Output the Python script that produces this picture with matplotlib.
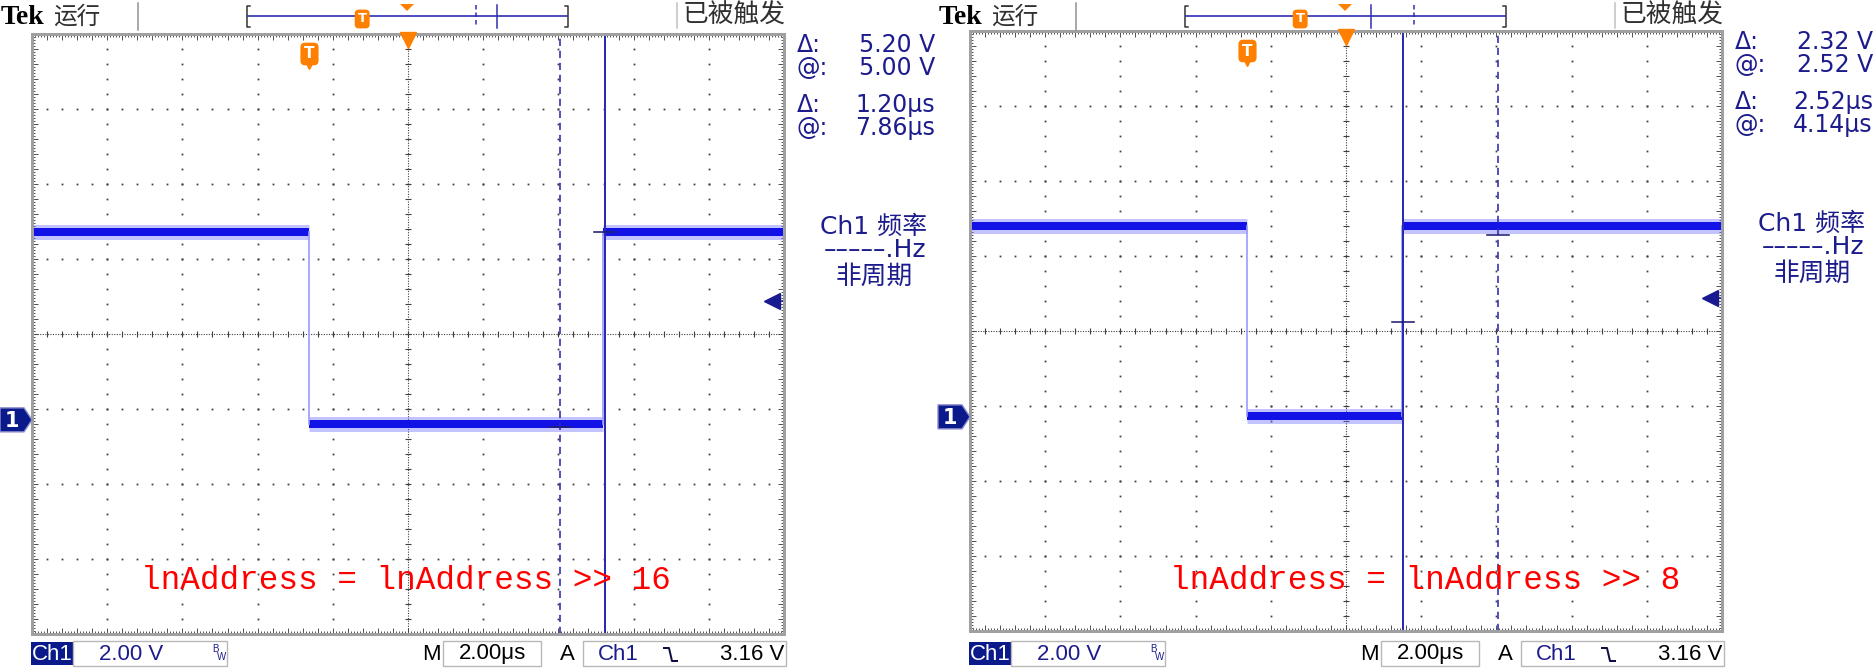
import numpy as np
import matplotlib.pyplot as plt
import matplotlib.transforms as mtransforms
from matplotlib.lines import Line2D
from matplotlib.patches import Polygon, Rectangle

W, H = 1876, 669
PX = 0.72  # points per pixel at dpi 100

# scope settings
sec_div = 2.0       # us / div
volt_div = 2.0      # V / div
trig_level = 3.16   # V
t_start = -7.38     # us at left edge of the screen
v_bottom = -5.71    # V at bottom edge of the screen

# the two captures
labels = ['lnAddress = lnAddress >> 16', 'lnAddress = lnAddress >> 8']
high_v = [5.00, 5.08]
low_v = [-0.12, 0.02]
fall_t = [0.0, 0.0]
rise_t = [7.80, 4.12]
cur_solid_t = [7.86, 4.14]
cur_dash_t = [6.66, 6.66]
cur_solid_v = [5.00, 2.52]
cur_dash_v = [-0.20, 4.84]

NAVY = '#1c1c8c'
CUR = '#2a2ab4'
ORANGE = '#ff8000'
GRAY = '#a0a0a0'

fig = plt.figure(figsize=(W / 100, H / 100), dpi=100)
fig.patch.set_facecolor('white')
pix = mtransforms.Affine2D().scale(1.0 / W, -1.0 / H).translate(0, 1) + fig.transFigure


def line(xs, ys, **kw):
    fig.add_artist(Line2D(xs, ys, transform=pix, **kw))


def text(x, y, s, **kw):
    fig.text(x, y, s, transform=pix, **kw)


def rect(x, y, w, h, **kw):
    fig.add_artist(Rectangle((x, y), w, h, transform=pix, **kw))


label_x = [141, 1170]

for i in range(2):
    ox = 938 * i
    dy = -3 * i
    x0, y0 = ox + 32, 34 + dy
    t_end = t_start + 10 * sec_div
    v_top = v_bottom + 8 * volt_div

    ax = fig.add_axes([x0 / W, 1 - (y0 + 600) / H, 752 / W, 600 / H])
    ax.set_xlim(t_start, t_end)
    ax.set_ylim(v_bottom, v_top)
    ax.set_facecolor('white')

    # graticule
    ta = ax.transAxes
    for k in [1, 2, 3, 4, 6, 7, 8, 9]:
        ax.plot(np.full(41, k / 10), np.arange(41) / 40, 's', ms=1.3, color='#404040', mew=0, transform=ta)
    for j in [1, 2, 3, 5, 6, 7]:
        ax.plot(np.arange(51) / 50, np.full(51, j / 8), 's', ms=1.3, color='#404040', mew=0, transform=ta)
    ax.plot([0, 1], [0.5, 0.5], ls=(0, (1, 1.3)), lw=0.8, color='#404040', transform=ta)
    ax.plot([0.5, 0.5], [0, 1], ls=(0, (1, 1.3)), lw=0.8, color='#404040', transform=ta)
    ax.plot(np.arange(51) / 50, np.full(51, 0.5), '|', ms=4.5, mew=0.8, color='#404040', transform=ta)
    ax.plot(np.full(41, 0.5), np.arange(41) / 40, '_', ms=4.5, mew=0.8, color='#404040', transform=ta)

    ax.set_xticks(t_start + np.arange(51) * sec_div / 5)
    ax.set_xticks(t_start + np.arange(251) * sec_div / 25, minor=True)
    ax.set_yticks(v_bottom + np.arange(41) * volt_div / 5)
    ax.set_yticks(v_bottom + np.arange(201) * volt_div / 25, minor=True)
    ax.tick_params(which='both', direction='in', top=True, right=True,
                   labelbottom=False, labelleft=False, color='#505050', width=0.7)
    ax.tick_params(which='major', length=4)
    ax.tick_params(which='minor', length=2)
    for s in ax.spines.values():
        s.set_color(GRAY)
        s.set_linewidth(3 * PX)

    # waveform
    segs = [(t_start, fall_t[i], high_v[i]), (fall_t[i], rise_t[i], low_v[i]), (rise_t[i], t_end, high_v[i])]
    for a, b, v in segs:
        ax.plot([a, b], [v, v], color='#6a6aff', lw=15 * PX, alpha=0.4, solid_capstyle='butt')
        ax.plot([a, b], [v, v], color='#1212e6', lw=8 * PX, solid_capstyle='butt')
    ax.plot([fall_t[i]] * 2, [high_v[i], low_v[i]], color='#9a9aff', lw=1.2)
    ax.plot([rise_t[i]] * 2, [low_v[i], high_v[i]], color='#9a9aff', lw=1.2)

    # cursors
    ax.axvline(cur_solid_t[i], color=CUR, lw=2 * PX)
    ax.axvline(cur_dash_t[i], color=CUR, lw=1.6 * PX, ls=(0, (4.5, 3)))
    ax.plot([cur_solid_t[i] - 0.3, cur_solid_t[i] + 0.3], [cur_solid_v[i]] * 2, color='#202070', lw=1.6 * PX)
    ax.plot([cur_dash_t[i] - 0.3, cur_dash_t[i] + 0.3], [cur_dash_v[i]] * 2, color='#202070', lw=1.6 * PX)

    # trigger level arrow, trigger position, expansion point
    bl = mtransforms.blended_transform_factory(ax.transAxes, ax.transData)
    ax.plot([1 - 12 / 752, 1], [trig_level] * 2, color='#1a1a90', lw=1.5 * PX, transform=bl)
    ax.plot([1 - 12 / 752], [trig_level], '<', ms=11, color='#1a1a90', transform=bl)
    bt = mtransforms.blended_transform_factory(ax.transData, ax.transAxes)
    ax.plot([fall_t[i]], [1 - 31 / 600], 'v', ms=6, color=ORANGE, transform=bt, zorder=5)
    ax.text(fall_t[i], 1 - 20 / 600, 'T', color='white', fontsize=11, fontweight='bold',
            ha='center', va='center', transform=bt, zorder=6,
            bbox=dict(boxstyle='round,pad=0.25,rounding_size=0.3', fc=ORANGE, ec='none'))
    ax.plot([0.5], [1 - 6 / 600], 'v', ms=11, color=ORANGE, transform=ta, clip_on=False, zorder=6)

    # code label
    text(label_x[i], 589, labels[i], color='red', fontsize=23.5, family='Liberation Mono',
         va='baseline', zorder=10)

    # ground marker
    gy = y0 + v_top / (v_top - v_bottom) * 600
    fig.add_artist(Polygon([(ox, gy - 12), (ox + 24, gy - 12), (ox + 32, gy), (ox + 24, gy + 12), (ox, gy + 12)],
                           closed=True, fc='#0a1a8a', ec='#8c8cd0', lw=1, transform=pix))
    text(ox + 12, gy + 1, '1', color='white', fontsize=15, fontweight='bold', ha='center', va='center')

    # header
    text(ox + 1, 17, 'Tek', fontsize=20, fontweight='bold', family='Liberation Serif', va='center')
    text(ox + 53, 17, '运行', fontsize=17, family='Noto Sans CJK SC', color='#303030', va='center')
    text(ox + 683, 16, '已被触发', fontsize=18.5, family='Noto Sans CJK SC', color='#303030', va='center')
    line([ox + 138, ox + 138], [3, 30], color='#909090', lw=1.5 * PX)
    line([ox + 677, ox + 677], [3, 28], color='#c0c0c0', lw=1.5 * PX)
    line([ox + 250, ox + 247, ox + 247, ox + 250], [6, 6, 27, 27], color='#303030', lw=1.5 * PX)
    line([ox + 565, ox + 568, ox + 568, ox + 565], [6, 6, 27, 27], color='#303030', lw=1.5 * PX)
    line([ox + 248, ox + 567], [16, 16], color='#2525b0', lw=1.6 * PX)

    def bar_x(t):
        scr = x0 + (t - t_start) / sec_div * 75.2
        return ox + 407 + 0.455 * (scr - (ox + 408))

    line([bar_x(cur_dash_t[i])] * 2, [5, 27], color=CUR, lw=1.5 * PX, ls=(0, (3, 2)))
    line([bar_x(cur_solid_t[i])] * 2, [5, 28], color=CUR, lw=1.5 * PX)
    text(bar_x(fall_t[i]), 19, 'T', color='white', fontsize=9.5, fontweight='bold', ha='center', va='center',
         bbox=dict(boxstyle='round,pad=0.22,rounding_size=0.3', fc=ORANGE, ec='none'))
    fig.add_artist(Polygon([(ox + 400, 4), (ox + 414, 4), (ox + 407, 11)], closed=True, fc=ORANGE, ec='none',
                           transform=pix))

    # readouts
    dv = abs(cur_solid_v[i] - cur_dash_v[i])
    dt = abs(cur_solid_t[i] - cur_dash_t[i])
    rows = [('Δ:', '%.2f V' % dv, 45), ('@:', '%.2f V' % cur_solid_v[i], 68),
            ('Δ:', '%.2fμs' % dt, 105), ('@:', '%.2fμs' % cur_solid_t[i], 128)]
    for lab, val, yy in rows:
        text(ox + 797, yy + dy, lab, fontsize=17, color=NAVY, va='center', family='DejaVu Sans')
        text(ox + 935, yy + dy, val, fontsize=17, color=NAVY, va='center', ha='right', family='DejaVu Sans')
    cjk = ['DejaVu Sans', 'Noto Sans CJK SC']
    text(ox + 874, 227 + dy, 'Ch1 频率', fontsize=18, color=NAVY, va='center', ha='center', family=cjk)
    text(ox + 875, 250 + dy, '–––––.Hz', fontsize=18, color=NAVY, va='center', ha='center', family=cjk)
    text(ox + 874, 277 + dy, '非周期', fontsize=18.5, color=NAVY, va='center', ha='center',
         family='Noto Sans CJK SC')

    # status bar
    rect(ox + 31, 642, 42, 23, fc='#0a1a8a', ec='none')
    text(ox + 52, 654, 'Ch1', color='white', fontsize=16, ha='center', va='center', family='Liberation Sans')
    rect(ox + 73, 641, 154, 25, fc='none', ec='#b8b8b8', lw=1)
    text(ox + 99, 654, '%.2f V' % volt_div, color=NAVY, fontsize=16, va='center', family='Liberation Sans')
    text(ox + 212, 649, 'B', color=NAVY, fontsize=7, va='center', family='Liberation Sans')
    text(ox + 217, 657, 'W', color=NAVY, fontsize=7, va='center', family='Liberation Sans')
    text(ox + 431, 654, 'M', color='black', fontsize=16, ha='center', va='center', family='Liberation Sans')
    rect(ox + 443, 641, 98, 25, fc='none', ec='#b8b8b8', lw=1)
    text(ox + 492, 654, '%.2fμs' % sec_div, color='black', fontsize=16, ha='center', va='center',
         family='Liberation Sans')
    text(ox + 567, 654, 'A', color='black', fontsize=16, ha='center', va='center', family='Liberation Sans')
    rect(ox + 583, 641, 203, 25, fc='none', ec='#b8b8b8', lw=1)
    text(ox + 598, 654, 'Ch1', color=NAVY, fontsize=16, va='center', family='Liberation Sans')
    line([ox + 664, ox + 669, ox + 672, ox + 677], [648, 648, 661, 661], color='#101040', lw=2 * PX)
    text(ox + 784, 654, '%.2f V' % trig_level, color='black', fontsize=16, ha='right', va='center',
         family='Liberation Sans')

fig.savefig('out.png', dpi=100)
